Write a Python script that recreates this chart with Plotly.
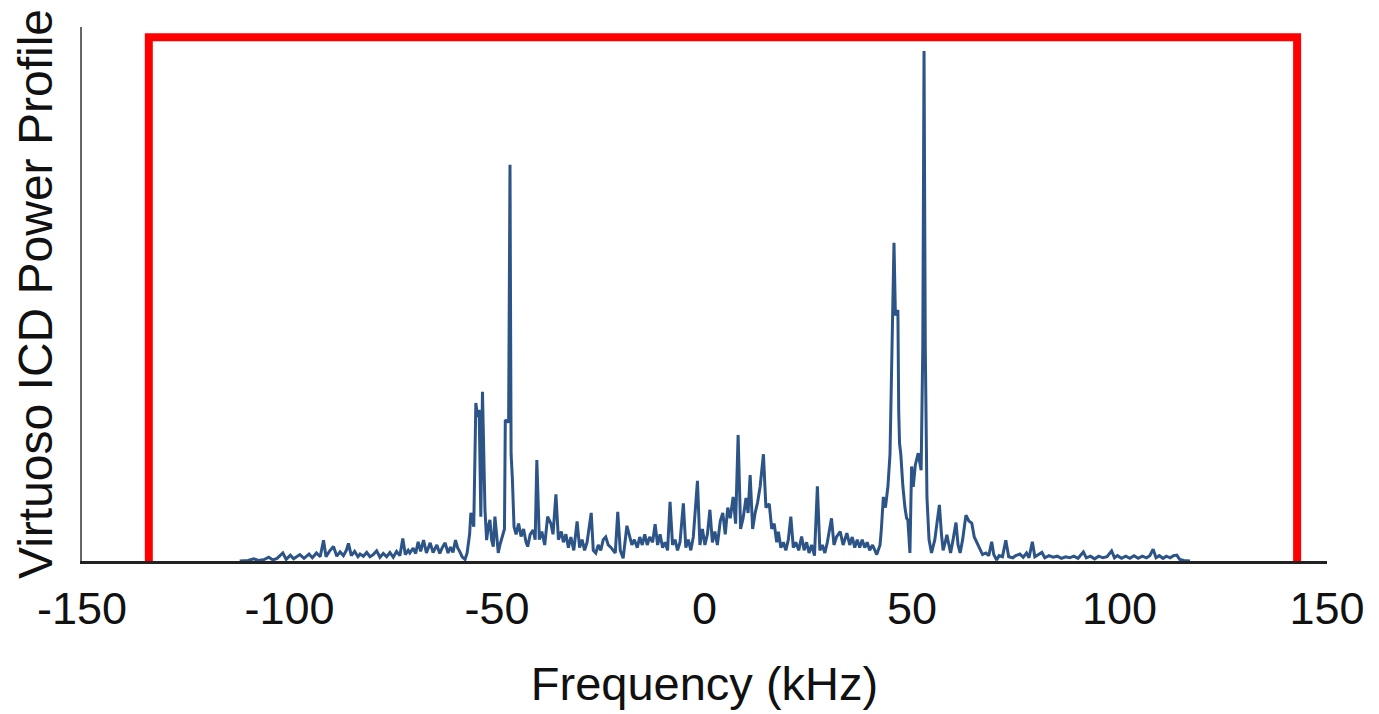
import plotly.graph_objects as go

# Frequency (kHz) and power profile (arbitrary units, 0-100)
freq_left = [-112, -110, -108.6, -107.5, -106, -105, -104, -103, -101.6, -100.8, -99.8, -99,
             -97.5, -96.5, -95.3, -94.5, -93.5, -92.6, -91.8, -91.2, -90.4, -89.4, -88.6, -87.8,
             -87, -86.3, -85.8, -85.1, -84.3, -83.5, -83, -82.2, -81.4, -80.6, -79.8, -79, -78.2,
             -77.4, -76.6, -75.8, -75, -74.2, -73.4, -72.7, -72.1, -71.4, -71, -70.2, -69.6, -69,
             -68.4, -67.7, -67, -66.1, -65.4, -64.5, -63.8, -63.2, -62.5, -61.8, -61.2, -60.6, -60,
             -59.5, -59, -58.4, -57.7, -57.2, -56.6, -56.3, -56, -55.6, -55.1, -54.7, -54.3, -53.9,
             -53.5, -53.1, -52.9, -52.5, -52.1, -51.7, -51.3, -50.9, -50.5, -50.1, -49.7, -49.3,
             -48.6, -48.2, -48.0, -47.2, -46.87, -46.6, -46.3, -45.9, -45.4, -44.8, -44.2, -43.6,
             -43, -42.6, -42, -41.3, -40.8]
power_left = [0, 0.1, 0.4, 0.1, 0.3, 0.7, 0.2, 0.5, 1.5, 0.3, 1.1, 0.4,
              1.2, 0.5, 1.3, 0.6, 1.5, 0.8, 3.9, 0.8, 1.8, 2.7, 0.9, 1.7,
              1.0, 2.0, 3.3, 1.0, 1.8, 0.8, 1.3, 0.9, 1.6, 0.8, 1.2, 1.9, 0.7,
              1.4, 0.8, 1.6, 0.7, 1.8, 1.0, 4.2, 1.2, 2.0, 1.5, 2.4, 1.4, 3.6,
              1.8, 3.9, 1.5, 3.4, 1.6, 3.0, 1.4, 2.5, 3.4, 1.5, 2.6, 1.6, 3.9,
              2.5, 1.8, 0.8, 0.3, 1.5, 5.0, 9.0, 8.3, 6.4, 29.6, 27.0, 28.3, 8.3,
              31.7, 15.0, 9.6, 3.9, 6.5, 7.7, 4.0, 2.7, 8.3, 5.0, 1.5, 3.0,
              5.0, 6.0, 26.4, 26.0, 74.2, 20.0, 15.5, 6.4, 5.0, 7.0, 4.6, 6.0,
              3.5, 2.7, 5.0, 5.8, 4.0]

freq_mid = [-40.4, -39.8, -39.2, -38.5, -37.8, -37, -36.5, -35.8, -35.2, -34.5, -34, -33.4,
            -32.8, -32.2, -31.5, -30.7, -30.1, -29.5, -28.9, -28.3, -27.3, -26.8, -26.2, -25.6,
            -25, -24.4, -23.8, -23.2, -22.5, -21.5, -20.9, -20.3, -19.6, -18.7, -18.1, -17.5,
            -16.9, -16.2, -15.6, -15, -14.4, -13.8, -13.2, -12.5, -11.9, -11.3, -10.7, -10.1,
            -9.5, -8.9, -8.3, -7.7, -7.1, -6.5, -5.9, -5.1, -4.5, -3.9, -3.3, -2.7, -1.7, -1.1,
            -0.5, 0.1, 0.7, 1.3, 1.9, 2.5, 3.1, 3.8, 4.4, 5.0, 5.6, 6.2, 6.9, 7.5, 8.1, 8.7, 9.3,
            10.0, 10.5, 11.0, 11.6, 12.2, 12.8, 13.4, 14.2, 14.8, 15.6, 16.2, 16.8, 17.4, 17.8,
            18.4, 19.0, 19.6, 20.2, 20.8, 21.4, 22.0, 22.7, 23.4, 24.0, 24.6, 25.2, 25.8, 26.5,
            27.2, 27.8, 28.4, 29.0, 29.6, 30.6, 31.2, 31.8, 32.7, 33.4, 34.3, 35.0, 35.6, 36.2,
            36.8, 37.4, 38.0, 38.6, 39.2, 39.8, 40.5, 41.5, 42.3]
power_mid = [18.9, 4.0, 5.5, 3.0, 8.3, 7.0, 5.0, 12.5, 4.0, 5.5, 3.5, 5.0,
             2.5, 4.5, 2.0, 7.4, 2.5, 4.0, 2.0, 3.5, 9.0, 2.0, 1.5, 3.0,
             2.0, 4.0, 4.5, 3.0, 2.5, 1.5, 9.2, 2.0, 0.5, 6.6, 5.0, 3.0,
             4.0, 2.5, 4.5, 3.0, 5.0, 3.0, 4.5, 3.5, 6.9, 3.0, 5.0, 2.5,
             3.5, 2.0, 11.1, 3.0, 4.0, 2.0, 3.5, 10.8, 2.5, 4.0, 2.0, 4.5, 15.0, 3.0,
             6.0, 3.0, 5.0, 9.6, 3.5, 5.5, 3.0, 7.5, 9.0, 5.0, 10.0, 8.0, 12.0, 7.0, 23.6, 6.0, 8.0,
             11.8, 9.0, 16.1, 6.0, 9.0, 11.0, 13.9, 20.0, 10.0, 10.7, 6.0, 7.0, 3.5, 5.5,
             2.5, 3.5, 2.0, 4.0, 8.3, 2.5, 3.5, 2.0, 4.6, 2.0, 3.5, 1.5, 3.0, 1.0,
             14.0, 2.0, 3.0, 1.5, 3.5, 8.0, 3.0, 4.5, 5.5, 3.0, 5.2, 3.0, 4.5, 2.5,
             4.0, 2.5, 4.0, 2.5, 3.5, 2.0, 3.0, 1.2, 3.0]

freq_right = [42.6, 43.1, 43.6, 44.2, 44.7, 45.2, 45.66, 46.0, 46.6, 46.8, 47.0, 47.3, 47.5,
              47.8, 48.3, 48.7, 49.0, 49.3, 49.5, 49.9, 50.3, 50.8, 51.5, 52.2, 52.6, 52.9,
              53.2, 53.6, 54.1, 54.7, 55.5, 56.0, 56.6, 57.1, 57.5, 58.0, 58.4, 58.9, 59.3,
              59.9, 60.6, 61.1, 61.6, 62.2, 63.0, 63.7, 64.4, 65.0, 65.6, 66.4, 67.0, 67.8,
              68.5, 69.2, 69.7, 70.4, 71.0, 71.8, 72.6, 73.3, 74.3, 75.0, 76.0, 76.8, 77.6,
              78.2, 79.0, 79.6, 80.3, 81.3, 82.0, 83.0, 84.0, 85.0, 86.0, 87.0, 88.0, 89.0,
              90.0, 91.3, 92.0, 93.0, 94.0, 95.0, 96.0, 97.0, 98.1, 98.8, 99.5, 100.5, 101.5,
              102.5, 103.5, 104.5, 105.5, 106.5, 107.3, 108.1, 108.8, 109.6, 110.5, 111.3,
              112.2, 113.0, 113.8, 114.5, 115.5, 117.0]
power_right = [5.8, 12.0, 10.0, 14.0, 20.0, 39.0, 59.6, 46.0, 47.0, 28.0, 22.0, 20.0, 16.7,
               14.0, 10.0, 8.0, 7.7, 2.0, 1.5, 17.7, 13.9, 18.0, 20.2, 17.0, 40.0, 95.5,
               40.0, 12.0, 4.0, 1.5, 4.0, 7.0, 10.5, 5.0, 2.0, 3.5, 4.9, 3.0, 1.5,
               4.0, 7.2, 3.0, 1.5, 4.0, 8.6, 7.5, 7.1, 4.5, 3.5, 2.1, 1.2, 1.5,
               1.0, 3.6, 1.2, 0.2, 1.0, 0.8, 3.9, 0.8, 0.6, 1.0, 1.3, 0.7, 1.5,
               0.6, 3.6, 0.8, 1.2, 1.6, 0.6, 1.0, 0.7, 0.9, 0.5, 0.8, 0.6, 0.9,
               0.5, 1.7, 0.6, 0.9, 0.4, 0.9, 0.6, 0.8, 1.9, 0.6, 1.0, 0.5, 0.9,
               0.5, 1.0, 0.5, 0.9, 0.6, 1.0, 2.2, 0.6, 1.0, 0.5, 0.9,
               0.6, 1.0, 1.1, 0.3, 0.1, 0.0]

freq = freq_left + freq_mid + freq_right
power = power_left + power_mid + power_right

x_ticks = [-150, -100, -50, 0, 50, 100, 150]

# Red highlight box (open at the bottom), in data coordinates
box_x = [-133.9, 142.8]
box_y = [-0.6, 98.1]

FONT = "Liberation Sans, Arial, Helvetica, sans-serif"

fig = go.Figure()
fig.add_trace(go.Scatter(
    x=freq, y=power, mode="lines",
    line=dict(color="#2d5487", width=3),
    hoverinfo="x+y", showlegend=False,
))

fig.add_shape(
    type="path",
    path=(f"M {box_x[0]},{box_y[0]} L {box_x[0]},{box_y[1]} "
          f"L {box_x[1]},{box_y[1]} L {box_x[1]},{box_y[0]}"),
    xref="x", yref="y",
    line=dict(color="#ff0000", width=8),
    layer="above",
)

# y-axis title placed as a rotated annotation so it can sit close to the page edge
fig.add_annotation(
    text="Virtuoso ICD Power Profile", textangle=-90,
    xref="paper", yref="paper", x=0, y=0.5, xanchor="center", yanchor="middle",
    xshift=-47, showarrow=False,
    font=dict(size=48, family=FONT, color="#111111"),
)

fig.update_layout(
    width=1379, height=714,
    margin=dict(l=74, r=60, t=19, b=161),
    paper_bgcolor="white", plot_bgcolor="white",
    font=dict(family=FONT, color="#111111"),
    xaxis=dict(
        range=[-150, 150], tickvals=x_ticks, ticktext=[str(v) for v in x_ticks],
        showgrid=False, zeroline=False,
        showline=True, linecolor="#222222", linewidth=2.5,
        ticks="", tickfont=dict(size=45, family=FONT, color="#111111"),
        ticklabelstandoff=6,
        title=dict(text="Frequency (kHz)", font=dict(size=47, family=FONT, color="#111111"),
                   standoff=35),
        automargin=False,
    ),
    yaxis=dict(
        range=[0, 100], showgrid=False, zeroline=False,
        showline=True, linecolor="#666666", linewidth=2,
        showticklabels=False, ticks="",
        automargin=False,
    ),
)

fig.write_html("out.html")
